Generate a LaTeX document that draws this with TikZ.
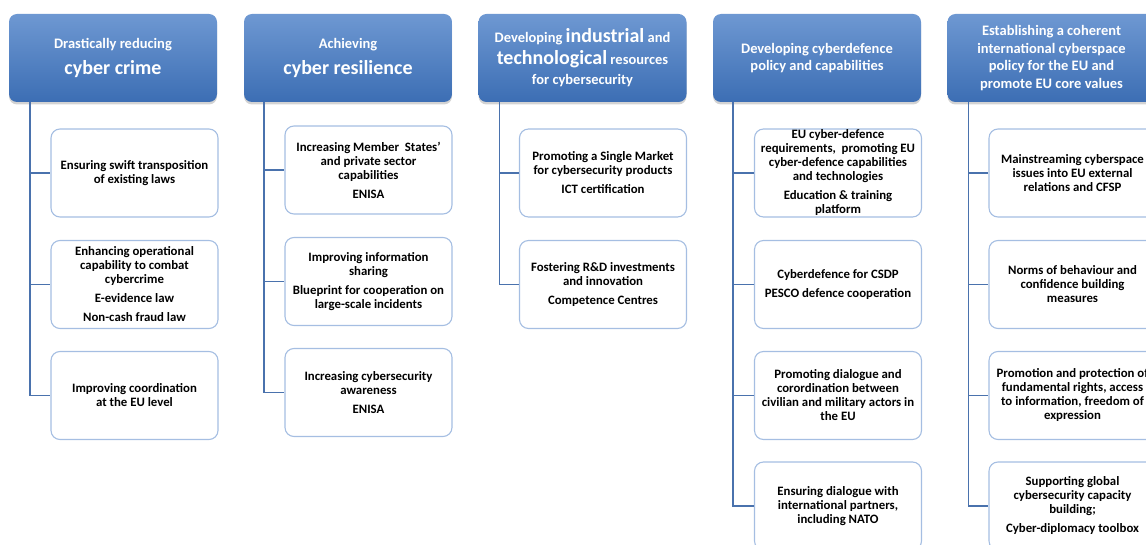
\documentclass[tikz,border=0pt]{standalone}
\usepackage{fontspec}
\setmainfont{Carlito}
\usepackage{tikz}
\usetikzlibrary{shadows}

\definecolor{headtop}{RGB}{110,152,210}
\definecolor{headbottom}{RGB}{60,110,180}
\definecolor{linkblue}{RGB}{74,114,173}
\definecolor{leafedge}{RGB}{165,190,226}

\newcommand{\bigword}[1]{{\fontsize{20}{24}\selectfont #1}}

\begin{document}
\begin{tikzpicture}[x=1pt, y=-1pt,
    head_node/.style={rectangle, rounded corners=8pt, minimum width=208pt, minimum height=88pt, inner sep=2pt,
        top color=headtop, bottom color=headbottom, text=white, align=center,
        font=\bfseries\fontsize{14.5}{17.5}\selectfont,
        drop shadow={shadow xshift=0pt, shadow yshift=-2.5pt, opacity=0.35}},
    leaf_node/.style={rectangle, rounded corners=9pt, minimum width=167pt, minimum height=88pt, inner sep=1pt,
        draw=leafedge, line width=1.1pt, fill=white, align=center,
        font=\bfseries\fontsize{12.8}{14}\selectfont},
    link_line/.style={draw=linkblue, line width=1.8pt}]
    \useasboundingbox (0,0) rectangle (1146,545);

    \node[head_node] (1) at (113, 58) {Drastically reducing\\[9pt] \bigword{cyber crime}};
    \node[head_node] (2) at (348, 58) {Achieving\\[9pt] \bigword{cyber resilience}};
    \node[head_node] (3) at (582.5, 58) {Developing \bigword{industrial} and\\[4pt] \bigword{technological} resources\\[3pt] for cybersecurity};
    \node[head_node] (4) at (817, 58) {Developing cyberdefence\\ policy and capabilities};
    \node[head_node] (5) at (1051.5, 58) {Establishing a coherent\\ international cyberspace\\ policy for the EU and\\ promote EU core values};

    \node[leaf_node] (11) at (134.5, 173) {Ensuring swift transposition\\ of existing laws};
    \node[leaf_node] (12) at (134.5, 284.5) {Enhancing operational\\ capability to combat\\ cybercrime\\[5pt] E-evidence law\\[5pt] Non-cash fraud law};
    \node[leaf_node] (13) at (134.5, 395.5) {Improving coordination\\ at the EU level};

    \node[leaf_node] (21) at (368.5, 170) {Increasing Member\ \ States'\\ and private sector\\ capabilities\\[5pt] ENISA};
    \node[leaf_node] (22) at (368.5, 281.5) {Improving information\\ sharing\\[5pt] Blueprint for cooperation on\\ large-scale incidents};
    \node[leaf_node] (23) at (368.5, 392.5) {Increasing cybersecurity\\ awareness\\[5pt] ENISA};

    \node[leaf_node] (31) at (603, 173) {Promoting a Single Market\\ for cybersecurity products\\[5pt] ICT certification};
    \node[leaf_node] (32) at (603, 284.5) {Fostering R\&D investments\\ and innovation\\[5pt] Competence Centres};

    \node[leaf_node] (41) at (838, 173) {EU cyber-defence\\ requirements,\ \ promoting EU\\ cyber-defence capabilities\\ and technologies\\[5pt] Education \& training\\ platform};
    \node[leaf_node] (42) at (838, 284.5) {Cyberdefence for CSDP\\[5pt] PESCO defence cooperation};
    \node[leaf_node] (43) at (838, 395.5) {Promoting dialogue and\\ corordination between\\ civilian and military actors in\\ the EU};
    \node[leaf_node] (44) at (838, 506) {Ensuring dialogue with\\ international partners,\\ including NATO};

    \node[leaf_node] (51) at (1072.5, 173) {Mainstreaming cyberspace\\ issues into EU external\\ relations and CFSP};
    \node[leaf_node] (52) at (1072.5, 284.5) {Norms of behaviour and\\ confidence building\\ measures};
    \node[leaf_node] (53) at (1072.5, 395.5) {Promotion and protection of\\ fundamental rights, access\\ to information, freedom of\\ expression};
    \node[leaf_node] (54) at (1072.5, 506) {Supporting global\\ cybersecurity capacity\\ building;\\[5pt] Cyber-diplomacy toolbox};

    \draw[link_line] ([xshift=-83pt]1.south) |- (11.west);
    \draw[link_line] ([xshift=-83pt]1.south) |- (12.west);
    \draw[link_line] ([xshift=-83pt]1.south) |- (13.west);
    \draw[link_line] ([xshift=-84pt]2.south) |- (21.west);
    \draw[link_line] ([xshift=-84pt]2.south) |- (22.west);
    \draw[link_line] ([xshift=-84pt]2.south) |- (23.west);
    \draw[link_line] ([xshift=-83pt]3.south) |- (31.west);
    \draw[link_line] ([xshift=-83pt]3.south) |- (32.west);
    \draw[link_line] ([xshift=-84pt]4.south) |- (41.west);
    \draw[link_line] ([xshift=-84pt]4.south) |- (42.west);
    \draw[link_line] ([xshift=-84pt]4.south) |- (43.west);
    \draw[link_line] ([xshift=-84pt]4.south) |- (44.west);
    \draw[link_line] ([xshift=-83pt]5.south) |- (51.west);
    \draw[link_line] ([xshift=-83pt]5.south) |- (52.west);
    \draw[link_line] ([xshift=-83pt]5.south) |- (53.west);
    \draw[link_line] ([xshift=-83pt]5.south) |- (54.west);
\end{tikzpicture}
\end{document}
